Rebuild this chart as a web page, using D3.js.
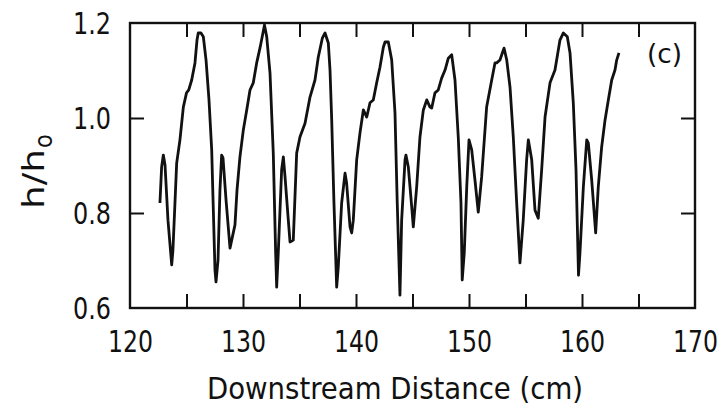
<!DOCTYPE html>
<html>
<head>
<meta charset="utf-8">
<script src="https://cdn.jsdelivr.net/npm/d3@7"></script>
<style>
  html, body { margin: 0; padding: 0; background: #fff; }
  svg { display: block; }
  text { font-family: "Liberation Sans Narrow", "DejaVu Sans Condensed", "Arial Narrow", sans-serif; fill: #111; }
</style>
</head>
<body>
<svg id="chart" width="725" height="405"></svg>
<script>
// Downstream distance (cm)
const xValues = [
  122.65, 122.8, 122.95, 123.1, 123.36, 123.69, 123.8, 124.13, 124.42, 124.72,
  125.0, 125.2, 125.46, 125.75, 125.93, 126.04, 126.28, 126.49, 126.73, 126.99,
  127.23, 127.35, 127.52, 127.61, 127.79, 127.96, 128.11, 128.23, 128.5, 128.85,
  129.29, 129.47, 129.73, 130.03, 130.33, 130.62, 130.91, 131.21, 131.5, 131.8,
  131.9, 132.1, 132.39, 132.68, 132.89, 132.98, 133.12, 133.42, 133.57, 133.72,
  134.01, 134.16, 134.45, 134.75, 135.04, 135.49, 135.93, 136.37, 136.66, 137.02,
  137.26, 137.55, 137.7, 137.85, 138.05, 138.29, 138.43, 138.73, 139.03, 139.17,
  139.47, 139.62, 139.76, 140.06, 140.35, 140.65, 140.95, 141.24, 141.53, 141.83,
  142.12, 142.42, 142.57, 142.86, 143.16, 143.45, 143.65, 143.89, 144.04, 144.34,
  144.42, 144.63, 144.93, 145.07, 145.37, 145.66, 145.96, 146.26, 146.55, 146.7,
  146.99, 147.28, 147.58, 147.88, 148.17, 148.47, 148.76, 149.05, 149.29, 149.4,
  149.58, 149.8, 150.0, 150.24, 150.53, 150.82, 151.12, 151.56, 152.01, 152.3,
  152.45, 152.74, 153.04, 153.1, 153.34, 153.63, 153.92, 154.22, 154.51, 154.8,
  155.1, 155.25, 155.55, 155.84, 156.13, 156.43, 156.73, 157.17, 157.61, 158.05,
  158.35, 158.7, 158.94, 159.23, 159.47, 159.69, 159.82, 160.12, 160.42, 160.56,
  160.86, 161.21, 161.44, 161.74, 162.04, 162.33, 162.63, 162.92, 163.07, 163.27
];
// h / h0
const hRatio = [
  0.821, 0.897, 0.922, 0.901, 0.785, 0.691, 0.722, 0.905, 0.954, 1.023,
  1.053, 1.059, 1.080, 1.116, 1.164, 1.179, 1.179, 1.171, 1.122, 1.038,
  0.933, 0.827, 0.680, 0.655, 0.701, 0.848, 0.922, 0.916, 0.827, 0.726,
  0.775, 0.848, 0.918, 0.975, 1.017, 1.059, 1.074, 1.116, 1.147, 1.183,
  1.196, 1.171, 1.095, 0.926, 0.716, 0.644, 0.716, 0.891, 0.918, 0.876,
  0.785, 0.739, 0.743, 0.926, 0.960, 0.989, 1.044, 1.080, 1.128, 1.168,
  1.179, 1.158, 1.101, 0.996, 0.821, 0.644, 0.686, 0.821, 0.884, 0.863,
  0.771, 0.758, 0.785, 0.912, 0.968, 1.017, 1.002, 1.032, 1.038, 1.074,
  1.107, 1.149, 1.160, 1.160, 1.122, 1.011, 0.821, 0.627, 0.785, 0.912,
  0.922, 0.897, 0.813, 0.771, 0.855, 0.960, 1.017, 1.038, 1.023, 1.021,
  1.053, 1.059, 1.084, 1.101, 1.126, 1.133, 1.080, 0.960, 0.821, 0.659,
  0.716, 0.855, 0.954, 0.933, 0.869, 0.802, 0.876, 1.023, 1.080, 1.116,
  1.116, 1.122, 1.143, 1.147, 1.122, 1.065, 0.960, 0.821, 0.695, 0.785,
  0.912, 0.954, 0.912, 0.806, 0.789, 0.891, 1.002, 1.074, 1.101, 1.164,
  1.179, 1.171, 1.137, 1.032, 0.891, 0.669, 0.716, 0.855, 0.954, 0.947,
  0.869, 0.758, 0.855, 0.939, 0.996, 1.038, 1.080, 1.101, 1.122, 1.137
];
const xTickLabels = [120, 130, 140, 150, 160, 170];
const xMinorTicks = [125, 130, 135, 140, 145, 150, 155, 160, 165];
const yTickLabels = [0.6, 0.8, 1.0, 1.2];
const yInnerTicks = [0.8, 1.0];
const xTitle = "Downstream Distance (cm)";
const panelLabel = "(c)";

const svg = d3.select("#chart");
const mLeft = 130, mRight = 695, mTop = 23, mBottom = 308;

const x = d3.scaleLinear().domain([120, 170]).range([mLeft, mRight]);
const y = d3.scaleLinear().domain([0.6, 1.2]).range([mBottom, mTop]);

const tickLen = 14;

const g = svg.append("g");
const styleTicks = s => { s.select(".domain").remove(); s.selectAll("line").attr("stroke", "#111").attr("stroke-width", 2); };
g.append("g").attr("transform", `translate(0,${mBottom})`)
  .call(d3.axisTop(x).tickValues(xMinorTicks).tickSize(tickLen).tickFormat(""))
  .call(styleTicks);
g.append("g").attr("transform", `translate(0,${mTop})`)
  .call(d3.axisBottom(x).tickValues(xMinorTicks).tickSize(tickLen).tickFormat(""))
  .call(styleTicks);
g.append("g").attr("transform", `translate(${mLeft},0)`)
  .call(d3.axisRight(y).tickValues(yInnerTicks).tickSize(tickLen).tickFormat(""))
  .call(styleTicks);
g.append("g").attr("transform", `translate(${mRight},0)`)
  .call(d3.axisLeft(y).tickValues(yInnerTicks).tickSize(tickLen).tickFormat(""))
  .call(styleTicks);

// tick labels
g.append("g").attr("transform", `translate(0,${mBottom})`)
  .call(d3.axisBottom(x).tickValues(xTickLabels).tickSize(0).tickPadding(0).tickFormat(d3.format("d")))
  .call(s => {
    s.select(".domain").remove();
    s.selectAll("text").attr("dy", null).attr("y", 44)
      .attr("font-size", 31).attr("font-family", null).attr("fill", "#111")
      .attr("textLength", 45).attr("lengthAdjust", "spacingAndGlyphs");
  });
g.append("g").attr("transform", `translate(${mLeft},0)`)
  .call(d3.axisLeft(y).tickValues(yTickLabels).tickSize(0).tickPadding(0).tickFormat(d3.format(".1f")))
  .call(s => {
    s.select(".domain").remove();
    s.selectAll("text").attr("dy", null).attr("x", -19).attr("y", 10)
      .attr("font-size", 31).attr("font-family", null).attr("fill", "#111")
      .attr("textLength", 38).attr("lengthAdjust", "spacingAndGlyphs");
  });

// frame
svg.append("rect")
  .attr("x", mLeft).attr("y", mTop)
  .attr("width", mRight - mLeft).attr("height", mBottom - mTop)
  .attr("fill", "none").attr("stroke", "#111").attr("stroke-width", 2.4);

// data line
const pts = xValues.map((v, i) => [v, hRatio[i]]);
svg.append("path")
  .datum(pts)
  .attr("fill", "none")
  .attr("stroke", "#111")
  .attr("stroke-width", 2.8)
  .attr("stroke-linejoin", "round")
  .attr("d", d3.line().x(d => x(d[0])).y(d => y(d[1])));

// panel label
svg.append("text").attr("x", 647).attr("y", 63)
  .attr("font-size", 26)
  .attr("textLength", 35).attr("lengthAdjust", "spacingAndGlyphs")
  .text(panelLabel);

// x title
svg.append("text").attr("x", 207).attr("y", 399)
  .attr("font-size", 31)
  .attr("textLength", 376).attr("lengthAdjust", "spacingAndGlyphs")
  .text(xTitle);

// y title  h/h_o
svg.append("text")
  .attr("transform", "translate(44,209) rotate(-90)")
  .attr("font-size", 31)
  .attr("textLength", 60).attr("lengthAdjust", "spacingAndGlyphs")
  .text("h/h");
svg.append("text")
  .attr("transform", "translate(52,148) rotate(-90)")
  .attr("font-size", 25)
  .text("o");
</script>
</body>
</html>
